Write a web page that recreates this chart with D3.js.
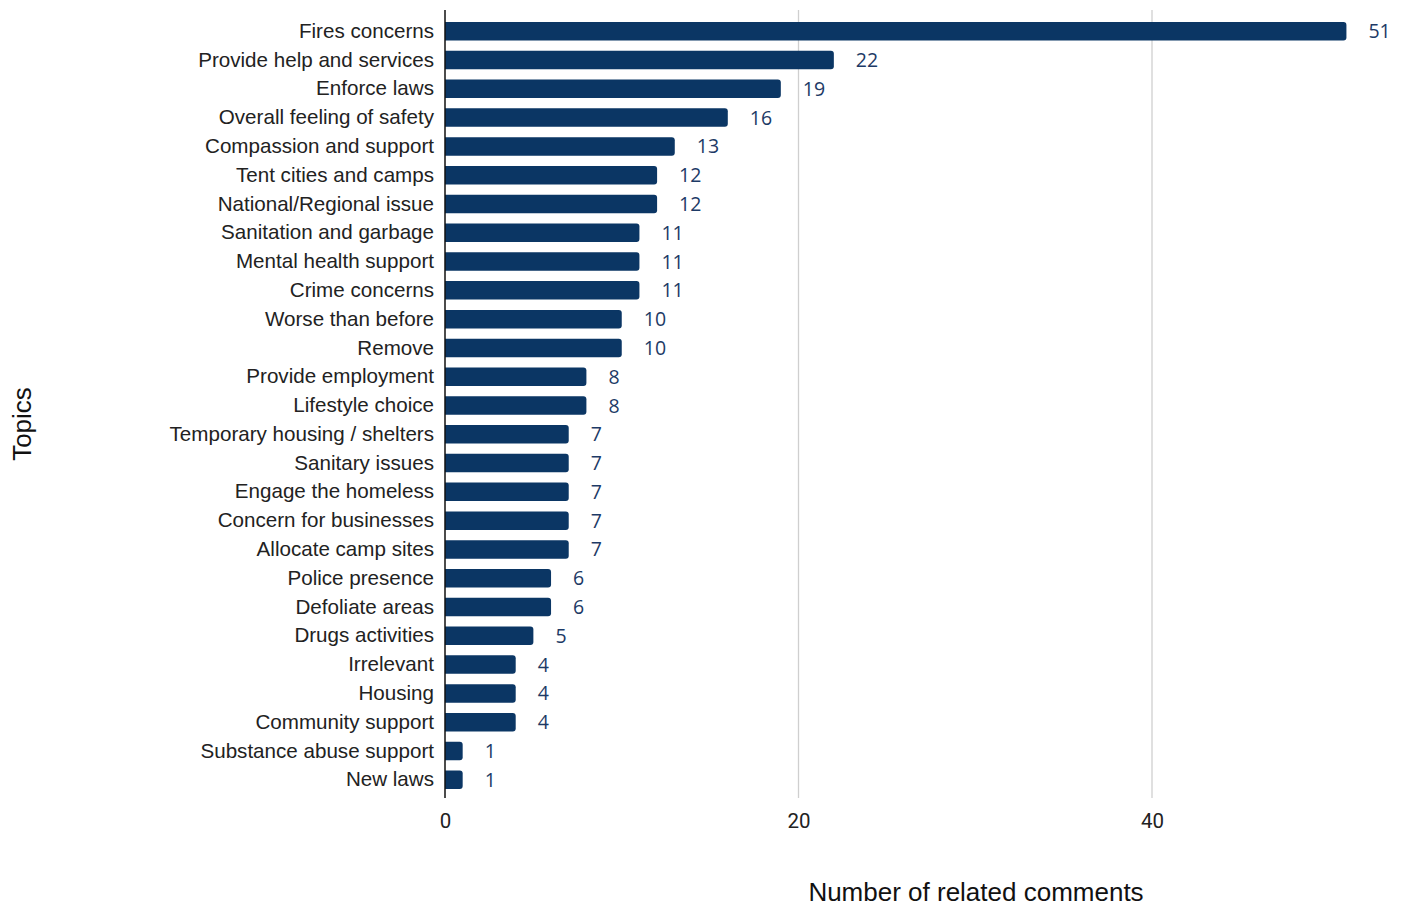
<!DOCTYPE html>
<html><head><meta charset="utf-8">
<script src="https://cdn.jsdelivr.net/npm/d3@7"></script>
<style>html,body{margin:0;padding:0;background:#fff;}</style>
</head><body>
<svg id="chart" width="1406" height="908"></svg>
<script>
const topics = ["Fires concerns","Provide help and services","Enforce laws","Overall feeling of safety","Compassion and support","Tent cities and camps","National/Regional issue","Sanitation and garbage","Mental health support","Crime concerns","Worse than before","Remove","Provide employment","Lifestyle choice","Temporary housing / shelters","Sanitary issues","Engage the homeless","Concern for businesses","Allocate camp sites","Police presence","Defoliate areas","Drugs activities","Irrelevant","Housing","Community support","Substance abuse support","New laws"];
const counts = [51,22,19,16,13,12,12,11,11,11,10,10,8,8,7,7,7,7,7,6,6,5,4,4,4,1,1];
const xTicks = [0,20,40];
const xTitle = "Number of related comments";
const yTitle = "Topics";

(function(){
const svg = d3.select("#chart");
const x = d3.scaleLinear().domain([0,54]).range([445, 445 + 54*17.675]);
const y = d3.scaleBand().domain(topics).range([22, 789]).paddingInner(0.357).paddingOuter(0);
const plotTop = 10, plotBottom = 798;

svg.append("g").selectAll("line").data(xTicks.filter(d=>d>0)).join("line")
  .attr("x1", d=>x(d)).attr("x2", d=>x(d)).attr("y1", plotTop).attr("y2", plotBottom)
  .attr("stroke", "#cfcfcf").attr("stroke-width", 1.3);

const r = 3;
svg.append("g").selectAll("path").data(topics).join("path")
  .attr("d", (d,i) => {
    const x0 = x(0), x1 = x(counts[i]), y0 = y(d), h = y.bandwidth();
    return `M${x0},${y0}H${x1-r}Q${x1},${y0} ${x1},${y0+r}V${y0+h-r}Q${x1},${y0+h} ${x1-r},${y0+h}H${x0}Z`;
  })
  .attr("fill", "#0b3664");

svg.append("g").selectAll("text").data(topics).join("text")
  .attr("x", (d,i) => x(counts[i]) + 22)
  .attr("y", d => y(d) + y.bandwidth()/2)
  .attr("dy", "0.36em")
  .attr("font-family", "'Open Sans', 'Noto Sans', sans-serif")
  .attr("font-size", 19.5)
  .attr("fill", "#1d3a66")
  .text((d,i) => counts[i]);

const yAxis = d3.axisLeft(y).tickSize(0).tickPadding(11);
const gy = svg.append("g").attr("transform", `translate(${x(0)},0)`).call(yAxis);
gy.select(".domain").remove();
gy.selectAll("text").attr("font-family", "'Liberation Sans', Arial, sans-serif").attr("font-size", 20.6).attr("fill", "#222");
svg.append("line").attr("x1", x(0)).attr("x2", x(0)).attr("y1", plotTop).attr("y2", plotBottom)
  .attr("stroke", "#111").attr("stroke-width", 1.5);

const xAxis = d3.axisBottom(x).tickValues(xTicks).tickSize(0).tickPadding(15).tickFormat(d3.format("d"));
const gx = svg.append("g").attr("transform", `translate(0,${plotBottom})`).call(xAxis);
gx.select(".domain").remove();
gx.selectAll("text").attr("font-family", "Roboto, sans-serif").attr("font-size", 20.5).attr("fill", "#222");

svg.append("text").attr("x", 976).attr("y", 901).attr("text-anchor", "middle")
  .attr("font-family", "'Liberation Sans', Arial, sans-serif").attr("font-size", 26).attr("fill", "#111")
  .text(xTitle);
svg.append("text").attr("transform", "translate(31,424) rotate(-90)").attr("text-anchor", "middle")
  .attr("font-family", "'Liberation Sans', Arial, sans-serif").attr("font-size", 26).attr("fill", "#111")
  .text(yTitle);
})();
</script>
</body></html>
